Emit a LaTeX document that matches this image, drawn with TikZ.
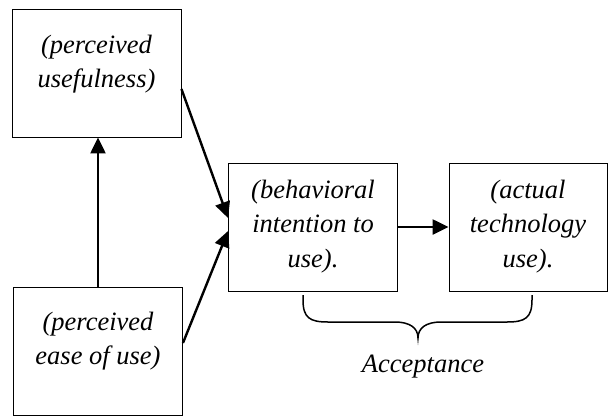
\documentclass[tikz,border=0pt]{standalone}
\usepackage{fontspec}
\setmainfont{Liberation Serif}
\usetikzlibrary{arrows.meta,positioning}

\begin{document}
\begin{tikzpicture}[x=1pt, y=-1pt,
                    box/.style={rectangle,draw,line width=0.9pt,minimum width=169pt,minimum height=128pt,inner sep=0pt},
                    box text/.style={align=center,inner sep=0pt,font=\fontsize{26.5}{34.5}\selectfont\itshape},
                    link/.style={-{Triangle[length=16pt,width=15pt]},line width=2.4pt}]

  \useasboundingbox (0,0) rectangle (608,416);

  \node[box] (pu) at (96.5,73) {};
  \node[box] (peou) at (98,351) {};
  \node[box] (bi) at (313,227) {};
  \node[box, minimum width=158pt] (use) at (528,227) {};

  \node[box text, below=26pt of pu.north] (pu text) {(perceived\\usefulness)};
  \node[box text, below=25pt of peou.north] (peou text) {(perceived\\ease of use)};
  \node[box text, below=17pt of bi.north] (bi text) {(behavioral\\intention to\\use).};
  \node[box text, below=17pt of use.north] (use text) {(actual\\technology\\use).};

  \path[link]

    (peou.north) edge (peou.north |- pu.south)

    ([yshift=-16pt]pu.east) edge ([yshift=9pt]bi.west)

    ([yshift=8pt]peou.east) edge ([yshift=-4pt]bi.west)

    (bi.east) edge (use.west) ;

  % brace under the two right boxes
  \draw[line width=1.5pt] (303,295) -- (303,300) .. controls (303,318) and (310,322) .. (328,322)
    -- (395,322) .. controls (410,322) and (418,328) .. (418,338)
    .. controls (418,328) and (426,322) .. (441,322) -- (507,322)
    .. controls (525,322) and (532,318) .. (532,300) -- (532,295);

  \node[box text, anchor=base] (acc) at (423,372) {Acceptance};

\end{tikzpicture}
\end{document}
